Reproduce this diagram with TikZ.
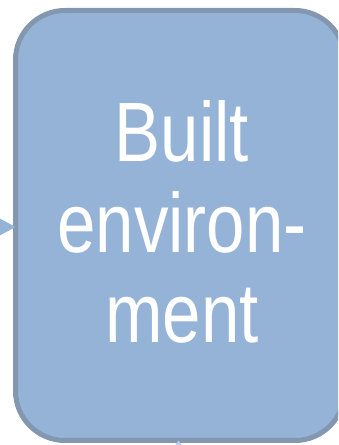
\documentclass[tikz,border=0pt]{standalone}
\usepackage{fontspec}
\usepackage{graphicx}
\newfontfamily\boxfont{Liberation Sans}
\usetikzlibrary{arrows.meta,positioning}
\definecolor{boxfill}{RGB}{149,179,215}
\definecolor{boxline}{RGB}{132,151,176}
\definecolor{tipfill}{RGB}{186,204,228}

\begin{document}
\begin{tikzpicture}[x=1pt,y=1pt,
box/.style={rectangle,draw=boxline,fill=boxfill,line width=5pt,rounded corners=49.5pt,
  minimum width=329pt,minimum height=430pt,inner sep=0pt,outer sep=0pt},
boxtext/.style={text=white,font=\boxfont\fontsize{69}{74}\selectfont,inner sep=0pt},
inlink/.style={draw=boxfill,line width=1pt,-{Triangle[length=16pt,width=17pt,fill=boxfill]}},
uplink/.style={draw=tipfill,line width=1pt,-{Triangle[length=9pt,width=12pt,fill=tipfill]}}]
\useasboundingbox (0,0) rectangle (338,445);
\clip (0,0) rectangle (338,445);
\node[box] (env) at (180,219.5) {};
\node[boxtext] (txt) at (182,211) {\scalebox{1}[1.22]{\begin{tabular}{c}Built\\environ-\\ment\end{tabular}}};
\coordinate (src) at (-30,218);
\coordinate (low) at (178.5,-30);
\draw[inlink] (src) -- (src -| env.west);
\draw[uplink] (low) -- (low |- env.south);
\end{tikzpicture}
\end{document}
